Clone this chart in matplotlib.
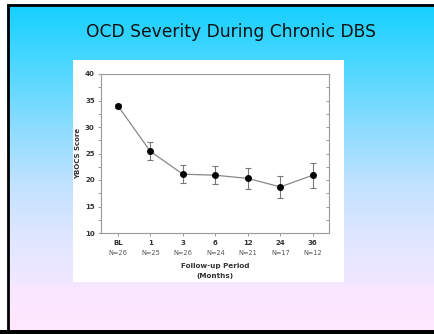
import numpy as np
import matplotlib
matplotlib.use("Agg")
import matplotlib.pyplot as plt
from matplotlib.transforms import blended_transform_factory

# ---- data ----
categories = ["BL", "1", "3", "6", "12", "24", "36"]
n_labels = ["N=26", "N=25", "N=26", "N=24", "N=21", "N=17", "N=12"]
ybocs_mean = [34.0, 25.4, 21.1, 20.9, 20.3, 18.7, 20.9]
ybocs_err = [0.4, 1.7, 1.7, 1.65, 2.0, 2.1, 2.35]
title_text = "OCD Severity During Chronic DBS"

W, H = 435, 334
fig = plt.figure(figsize=(W / 100, H / 100), dpi=100)
fig.patch.set_facecolor("white")

# background slide with gradient
bg = fig.add_axes([0, 0, 1, 1])
bg.set_xlim(0, W)
bg.set_ylim(H, 0)
bg.axis("off")
stops_y = [0, 60, 120, 180, 240, 280, 290, 334]
stops_c = np.array([
    (20, 208, 255), (75, 215, 255), (135, 220, 255), (190, 226, 255),
    (225, 230, 255), (238, 232, 255), (250, 230, 255), (255, 232, 255)]) / 255.0
ys = np.arange(H)
grad = np.stack([np.interp(ys, stops_y, stops_c[:, k]) for k in range(3)], axis=1)
img = np.repeat(grad[:, None, :], W, axis=1)
bg.imshow(img, extent=[7, W, 331, 4], aspect="auto", zorder=0, interpolation="bilinear")
# border (left, top, bottom only; right side is off the picture)
bg.plot([8, 8], [4, 334], color="black", lw=2.0, zorder=2, solid_capstyle="butt")
bg.plot([7, W], [5, 5], color="black", lw=2.0, zorder=2, solid_capstyle="butt")
bg.add_patch(plt.Rectangle((0, 330), W, 4, facecolor="black", edgecolor="none", zorder=2))
# white picture area
bg.add_patch(plt.Rectangle((73, 60), 271, 222, facecolor="white", edgecolor="none", zorder=1))
bg.text(231, 32, title_text, ha="center", va="center", fontsize=12.3,
        family="DejaVu Sans", color="#111111")

# chart axes
L, R, T, B = 101, 329, 74, 233
ax = fig.add_axes([L / W, 1 - B / H, (R - L) / W, (B - T) / H])
ax.set_facecolor("none")
x = np.arange(len(categories))
ax.errorbar(x, ybocs_mean, yerr=ybocs_err, fmt="none", ecolor="#777777",
            elinewidth=0.8, capsize=2.5, capthick=0.8, zorder=2)
ax.plot(x, ybocs_mean, color="#888888", lw=0.9, zorder=3)
ax.plot(x, ybocs_mean, "o", color="black", ms=4.0, zorder=4)
ax.set_xlim(-0.52, 6.5)
ax.set_ylim(10, 40)
ax.set_yticks(np.arange(10, 41, 5))
ax.set_yticks(np.arange(12.5, 40, 5), minor=True)
ax.set_xticks(x)
ax.set_xticklabels([])
for s in ["left", "right", "top", "bottom"]:
    ax.spines[s].set_color("#999999")
    ax.spines[s].set_linewidth(0.8)
ax.tick_params(axis="y", which="both", direction="out", color="#999999",
               length=2.5, width=0.7, labelsize=5, labelcolor="#333333", pad=2)
ax.tick_params(axis="x", which="both", direction="out", color="#999999",
               length=2.5, width=0.7)
for lab in ax.get_yticklabels():
    lab.set_fontweight("bold")

# inward ticks on the right spine
ax2 = ax.twinx()
ax2.set_ylim(ax.get_ylim())
ax2.set_yticks(np.arange(10, 41, 5))
ax2.set_yticks(np.arange(12.5, 40, 5), minor=True)
ax2.set_yticklabels([])
ax2.tick_params(axis="y", which="both", direction="in", color="#999999",
                length=2.5, width=0.7)
for s in ax2.spines.values():
    s.set_visible(False)

trans = blended_transform_factory(ax.transData, ax.transAxes)
for xi, c, n in zip(x, categories, n_labels):
    ax.text(xi, -0.062, c, transform=trans, ha="center", va="center",
            fontsize=5, fontweight="bold", color="#333333")
    ax.text(xi, -0.125, n, transform=trans, ha="center", va="center",
            fontsize=4.8, color="#555555")
ax.text(0.5, -0.21, "Follow-up Period", transform=ax.transAxes, ha="center",
        va="center", fontsize=5.2, fontweight="bold", color="#333333")
ax.text(0.5, -0.27, "(Months)", transform=ax.transAxes, ha="center",
        va="center", fontsize=5.2, fontweight="bold", color="#333333")
ax.set_ylabel("YBOCS Score", fontsize=5, fontweight="bold", color="#333333", labelpad=3)

fig.savefig("out.png", dpi=100)
